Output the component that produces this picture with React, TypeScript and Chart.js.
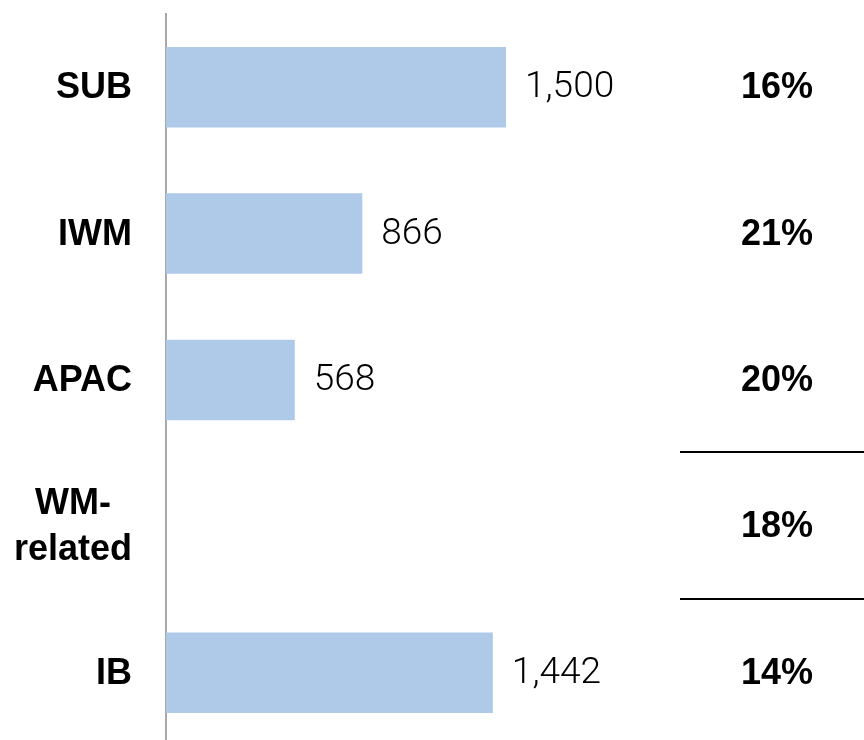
import React, { useEffect, useRef } from 'react';
import { Chart, registerables } from 'chart.js';

Chart.register(...registerables);

const categories: string[][] = [['SUB'], ['IWM'], ['APAC'], ['WM-', 'related'], ['IB']];
const values: (number | null)[] = [1500, 866, 568, null, 1442];
const valueLabels: string[] = ['1,500', '866', '568', '', '1,442'];
const shares: string[] = ['16%', '21%', '20%', '18%', '14%'];
const separatorsAfter: number[] = [2, 3];

const labelPlugin = {
  id: 'customLabels',
  afterDatasetsDraw(chart: any) {
    const ctx = chart.ctx as CanvasRenderingContext2D;
    const yScale = chart.scales.y;
    const xScale = chart.scales.x;
    const area = chart.chartArea;
    ctx.save();
    // category labels
    ctx.fillStyle = '#000';
    ctx.font = 'bold 36px "Liberation Sans", Arial, sans-serif';
    ctx.textBaseline = 'middle';
    ctx.textAlign = 'center';
    categories.forEach((lines, i) => {
      const cy = yScale.getPixelForValue(i) + 1;
      let maxW = 0;
      lines.forEach((l) => { maxW = Math.max(maxW, ctx.measureText(l).width); });
      const cx = area.left - 34 - maxW / 2;
      const lh = 46;
      const start = cy - ((lines.length - 1) * lh) / 2;
      lines.forEach((l, j) => ctx.fillText(l, cx, start + j * lh));
    });
    // value labels
    ctx.fillStyle = '#000';
    ctx.font = '300 37px Roboto, "Liberation Sans", sans-serif';
    ctx.textAlign = 'left';
    values.forEach((v, i) => {
      if (v == null) return;
      const x = xScale.getPixelForValue(v) + 19;
      ctx.fillText(valueLabels[i], x, yScale.getPixelForValue(i) + 1);
    });
    // shares
    ctx.fillStyle = '#000';
    ctx.font = 'bold 36px "Liberation Sans", Arial, sans-serif';
    ctx.textAlign = 'center';
    shares.forEach((s, i) => {
      ctx.fillText(s, 777, yScale.getPixelForValue(i) + 1);
    });
    // separators
    ctx.strokeStyle = '#000';
    ctx.lineWidth = 2;
    separatorsAfter.forEach((i) => {
      const y = Math.round((yScale.getPixelForValue(i) + yScale.getPixelForValue(i + 1)) / 2) - 1;
      ctx.beginPath();
      ctx.moveTo(680, y);
      ctx.lineTo(chart.width, y);
      ctx.stroke();
    });
    ctx.restore();
  },
};

export default function App() {
  const ref = useRef<HTMLCanvasElement | null>(null);
  useEffect(() => {
    if (!ref.current) return;
    const chart = new Chart(ref.current, {
      type: 'bar',
      data: {
        labels: categories.map((c) => c.join(' ')),
        datasets: [
          {
            data: values,
            backgroundColor: '#afc9e9',
            borderWidth: 0,
            categoryPercentage: 1,
            barPercentage: 0.55,
          },
        ],
      },
      options: {
        indexAxis: 'y',
        animation: false,
        responsive: true,
        maintainAspectRatio: false,
        layout: { padding: { top: 14, right: 18, bottom: 6, left: 0 } },
        plugins: { legend: { display: false }, tooltip: { enabled: false } },
        scales: {
          x: { display: false, min: 0, max: 3000 },
          y: {
            grid: { display: false },
            ticks: { display: false },
            border: { display: true, color: '#a8a8a8', width: 2 },
            afterFit: (scale: any) => { scale.width = 166; },
          },
        },
      },
      plugins: [labelPlugin],
    });
    return () => chart.destroy();
  }, []);
  return (
    <div style={{ position: 'absolute', left: 0, top: 0, width: 864, height: 752 }}>
      <canvas ref={ref} />
    </div>
  );
}
